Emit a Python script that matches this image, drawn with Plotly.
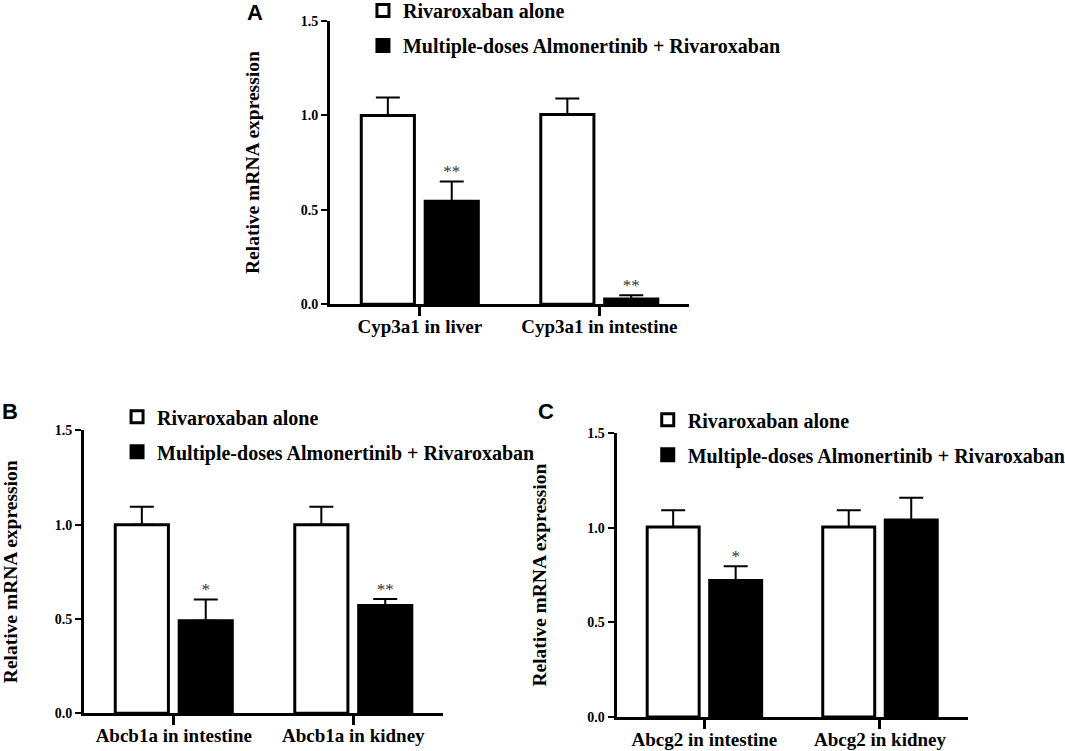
import plotly.graph_objects as go

# panel A
a_categories = ["Cyp3a1 in liver", "Cyp3a1 in intestine"]
a_alone = [1.0, 1.005]
a_alone_err = [0.095, 0.085]
a_combo = [0.545, 0.027]
a_combo_err = [0.105, 0.02]
a_sig = ["**", "**"]

# panel B
b_categories = ["Abcb1a in intestine", "Abcb1a in kidney"]
b_alone = [1.0, 1.0]
b_alone_err = [0.095, 0.095]
b_combo = [0.49, 0.572]
b_combo_err = [0.113, 0.034]
b_sig = ["*", "**"]

# panel C
c_categories = ["Abcg2 in intestine", "Abcg2 in kidney"]
c_alone = [1.005, 1.005]
c_alone_err = [0.088, 0.088]
c_combo = [0.722, 1.042]
c_combo_err = [0.075, 0.117]
c_sig = ["*", ""]

y_ticks = [0.0, 0.5, 1.0, 1.5]
name_alone = "Rivaroxaban alone"
name_combo = "Multiple-doses Almonertinib + Rivaroxaban"

SERIF = "Liberation Serif"
OFFSET = 0.178
BAR_W = 0.296

fig = go.Figure()

panels = [
    ("x", "y", "legend", a_categories, a_alone, a_alone_err, a_combo, a_combo_err, a_sig),
    ("x2", "y2", "legend2", b_categories, b_alone, b_alone_err, b_combo, b_combo_err, b_sig),
    ("x3", "y3", "legend3", c_categories, c_alone, c_alone_err, c_combo, c_combo_err, c_sig),
]

for xa, ya, lg, cats, alone, alone_err, combo, combo_err, sig in panels:
    pos = list(range(len(cats)))
    fig.add_trace(go.Bar(
        x=[p - OFFSET for p in pos], y=alone, width=BAR_W,
        name=name_alone, legend=lg, legendgroup=lg + "a",
        marker=dict(color="white", line=dict(color="black", width=3)),
        error_y=dict(type="data", symmetric=False, array=alone_err, arrayminus=[0] * len(pos),
                     color="black", thickness=2, width=12),
        xaxis=xa, yaxis=ya,
    ))
    fig.add_trace(go.Bar(
        x=[p + OFFSET for p in pos], y=combo, width=BAR_W,
        name=name_combo, legend=lg, legendgroup=lg + "b",
        marker=dict(color="black", line=dict(color="black", width=3)),
        error_y=dict(type="data", symmetric=False, array=combo_err, arrayminus=[0] * len(pos),
                     color="black", thickness=2, width=12),
        xaxis=xa, yaxis=ya,
    ))
    # significance stars above the error bars
    fig.add_trace(go.Scatter(
        x=[p + OFFSET for p in pos], y=[v + e for v, e in zip(combo, combo_err)],
        text=sig, mode="text", textposition="top center",
        textfont=dict(family=SERIF, size=17, color="#333333"),
        showlegend=False, hoverinfo="skip", xaxis=xa, yaxis=ya,
    ))

xdom = {"x": [0.3099, 0.647], "x2": [0.0789, 0.416], "x3": [0.579, 0.9087]}
ydom = {"y": [0.595, 0.972], "y2": [0.0502, 0.427], "y3": [0.0453, 0.423]}

axis_line = dict(showline=True, linewidth=3, linecolor="black", showgrid=False, zeroline=False,
                 ticks="outside", tickcolor="black", automargin=False)

layout = dict(
    width=1065, height=751,
    margin=dict(l=0, r=0, t=0, b=0, autoexpand=False),
    paper_bgcolor="white", plot_bgcolor="white",
    barmode="overlay", showlegend=True,
    font=dict(family=SERIF, color="black"),
)

for xa, ya, lg, cats, *_rest in panels:
    xkey = "xaxis" if xa == "x" else "xaxis" + xa[1:]
    ykey = "yaxis" if ya == "y" else "yaxis" + ya[1:]
    layout[xkey] = dict(axis_line, domain=xdom[xa], anchor=ya, range=[-0.5, 1.5],
                        tickvals=list(range(len(cats))), ticktext=cats,
                        ticklen=9, tickwidth=2.5, ticklabelstandoff=-6,
                        tickfont=dict(family=SERIF, size=19, color="black", weight="bold"))
    layout[ykey] = dict(axis_line, domain=ydom[ya], anchor=xa, range=[0, 1.5],
                        tickvals=y_ticks, tickformat=".1f", ticklen=6, tickwidth=2,
                        tickfont=dict(family=SERIF, size=14, color="black", weight="bold"),
                        title=dict(text="Relative mRNA expression", standoff=36,
                                   font=dict(family=SERIF, size=19.5, color="black", weight="bold")))

legend_pos = {"legend": (0.3408, 1.012), "legend2": (0.1099, 0.471), "legend3": (0.6082, 0.467)}
for lg, (lx, ly) in legend_pos.items():
    layout[lg] = dict(x=lx, y=ly, xanchor="left", yanchor="top", bgcolor="rgba(0,0,0,0)",
                      tracegroupgap=6, traceorder="grouped",
                      font=dict(family=SERIF, size=20, color="black", weight="bold"))

letters = [("A", 0.2394, 0.984), ("B", 0.0094, 0.4527), ("C", 0.5127, 0.4514)]
layout["annotations"] = [
    dict(text=t, x=x, y=y, xref="paper", yref="paper", showarrow=False,
         xanchor="center", yanchor="middle",
         font=dict(family="Liberation Sans", size=22, color="black", weight="bold"))
    for t, x, y in letters
]

fig.update_layout(**layout)
# drop the page's default body margin so the figure sits at the top-left corner
fig.write_html("out.html", config={"displayModeBar": False},
               post_script="document.body.style.margin = '0px';")
